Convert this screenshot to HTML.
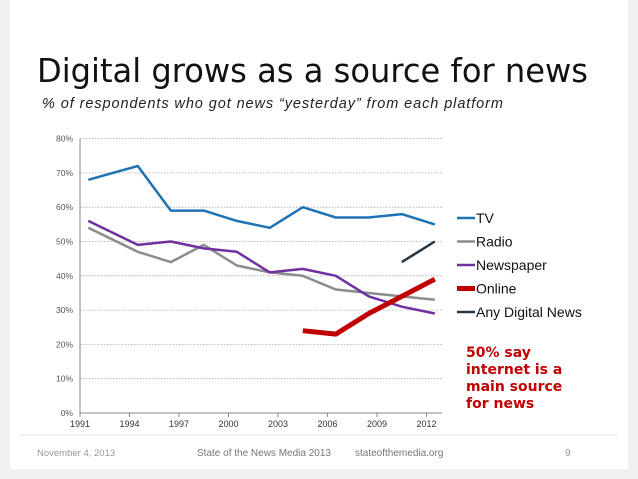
<!DOCTYPE html>
<html><head><meta charset="utf-8"><style>
body{margin:0;width:638px;height:479px;background:#f0f0f0;overflow:hidden;font-family:"Liberation Sans","DejaVu Sans",sans-serif;}
#slide{position:absolute;left:10px;top:0;width:618px;height:469px;background:#fff;}
</style></head><body>
<div id="slide"></div>
<svg id="chart" width="638" height="479" style="position:absolute;left:0;top:0">
<text x="37" y="82" font-size="33" fill="#111" font-family="DejaVu Sans, sans-serif" textLength="551" lengthAdjust="spacingAndGlyphs">Digital grows as a source for news</text>
<text x="42" y="108" font-size="14.5" font-style="italic" fill="#222" textLength="461" lengthAdjust="spacing">% of respondents who got news “yesterday” from each platform</text>
<line x1="20" y1="435" x2="618" y2="435" stroke="#e4e4e4"/>
<text x="37" y="456" font-size="9.5" fill="#999">November 4, 2013</text>
<text x="197" y="456" font-size="10" fill="#777">State of the News Media 2013</text>
<text x="355" y="456" font-size="10" fill="#777">stateofthemedia.org</text>
<text x="565" y="456" font-size="10" fill="#999">9</text>
<text x="467" y="357" font-size="14" font-weight="bold" fill="#c00000" font-family="DejaVu Sans, sans-serif"><tspan x="466" y="357">50% say</tspan><tspan x="466" y="374">internet is a</tspan><tspan x="466" y="391">main source</tspan><tspan x="466" y="408">for news</tspan></text>
<g id="plot"></g>
</svg>
<script>
const years=[1991,1994,1996,1998,2000,2002,2004,2006,2008,2010,2012];
const tvValues=[68,72,59,59,56,54,60,57,57,58,55];
const radioValues=[54,47,44,49,43,41,40,36,35,34,33];
const newspaperValues=[56,49,50,48,47,41,42,40,34,31,29];
const onlineValues=[null,null,null,null,null,null,24,23,29,34,39];
const digitalValues=[null,null,null,null,null,null,null,null,null,44,50];
const yTicks=[0,10,20,30,40,50,60,70,80];
const xTicks=[1991,1994,1997,2000,2003,2006,2009,2012];
const seriesNames=["TV","Radio","Newspaper","Online","Any Digital News"];

const NS="http://www.w3.org/2000/svg";
const g=document.getElementById('plot');
const X0=80,X1=442,Y0=413,Y80=138.6;
const xs=v=>X0+(v-1991)*16.5;
const px=yr=>xs(yr+0.5);
const ys=v=>Y0-(v/80)*(Y0-Y80);
function mk(tag,attrs){const e=document.createElementNS(NS,tag);for(const k in attrs)e.setAttribute(k,attrs[k]);g.appendChild(e);return e;}
yTicks.forEach(t=>{
  if(t>0){const l=mk('line',{x1:X0,x2:X1,y1:ys(t),y2:ys(t),stroke:'#aaa','stroke-dasharray':'1.5,1.5','stroke-width':0.8});
  
  }
  const tx=mk('text',{x:X0-7,y:ys(t)+3,'font-size':8.5,fill:'#555','text-anchor':'end'});tx.textContent=t+'%';
  
  
});
const ax=mk('line',{x1:X0,x2:X0,y1:Y80,y2:Y0,stroke:'#888'});


const axx=mk('line',{x1:X0,x2:X1,y1:Y0,y2:Y0,stroke:'#888'});


xTicks.forEach(t=>{
  mk('line',{x1:xs(t),x2:xs(t),y1:Y0,y2:Y0+4,stroke:'#888'});
  const tx=mk('text',{x:xs(t),y:Y0+14,'font-size':9,fill:'#333','text-anchor':'middle'});tx.textContent=t;
  
  
});
const series=[[tvValues,'#1f73b5',2.5],[radioValues,'#8c8c8c',2.5],[newspaperValues,'#7030a0',2.5],[onlineValues,'#c00000',5],[digitalValues,'#253545',2.5]];
series.forEach((s,i)=>{
  let d='';s[0].forEach((v,j)=>{if(v==null)return;d+=(d?'L':'M')+px(years[j]).toFixed(1)+','+ys(v).toFixed(1);});
  const p=mk('path',{d:d,fill:'none',stroke:s[1],'stroke-width':s[2],'stroke-linejoin':'round'});
  
  
  const ly=218+i*23.5;
  const ll=mk('line',{x1:457,x2:475,y1:ly,y2:ly,stroke:s[1],'stroke-width':s[2]});
  
  
  const lt=mk('text',{x:476,y:ly+5,'font-size':14,fill:'#111'});lt.textContent=seriesNames[i];
  
  
});
</script>
</body></html>
